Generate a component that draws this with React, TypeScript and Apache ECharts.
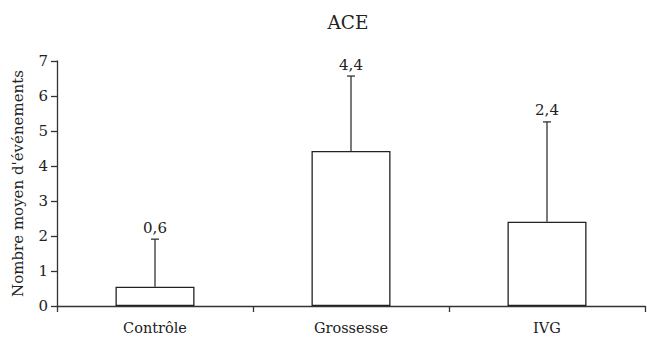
import React, { useEffect, useRef } from "react";
import * as echarts from "echarts";

const categories = ["Contrôle", "Grossesse", "IVG"];
const means = [0.55, 4.43, 2.41];
const upperErrors = [1.91, 6.57, 5.26];
const valueLabels = ["0,6", "4,4", "2,4"];
const yTicks = { min: 0, max: 7, interval: 1 };

const FONT = "DejaVu Serif";

export default function App() {
  const ref = useRef<HTMLDivElement>(null);
  useEffect(() => {
    if (!ref.current) return;
    const chart = echarts.init(ref.current, null, { renderer: "svg" });
    const errData = categories.map((_, i) => [i, means[i], upperErrors[i]]);
    chart.setOption({
      animation: false,
      backgroundColor: "#fff",
      title: {
        text: "ACE",
        left: 343,
        top: 8,
        textAlign: "center",
        textStyle: { fontFamily: FONT, fontSize: 18.5, fontWeight: "normal", color: "#222" },
      },
      grid: { left: 57, right: 2, top: 61, bottom: 36, containLabel: false },
      xAxis: {
        type: "category",
        data: categories,
        axisLine: { lineStyle: { color: "#333", width: 1.3 } },
        axisTick: { show: true, length: 6, lineStyle: { color: "#333", width: 1.3 } },
        axisLabel: { fontFamily: FONT, fontSize: 14.5, color: "#222", margin: 14 },
        splitLine: { show: false },
      },
      yAxis: {
        type: "value",
        min: yTicks.min,
        max: yTicks.max,
        interval: yTicks.interval,
        name: "Nombre moyen d'événements",
        nameLocation: "middle",
        nameGap: 32,
        nameRotate: 90,
        nameTextStyle: { fontFamily: FONT, fontSize: 15, color: "#222" },
        axisLine: { show: true, lineStyle: { color: "#333", width: 1.3 } },
        axisTick: { show: true, length: 6, lineStyle: { color: "#333", width: 1.3 } },
        axisLabel: { fontFamily: FONT, fontSize: 15, color: "#222", margin: 9 },
        splitLine: { show: false },
      },
      series: [
        {
          type: "bar",
          data: means,
          barWidth: 79,
          itemStyle: { color: "#fff", borderColor: "#222", borderWidth: 1.3 },
        },
        {
          type: "custom",
          data: errData,
          z: 10,
          renderItem: (params: any, api: any) => {
            const idx = api.value(0);
            const lo = api.coord([idx, api.value(1)]);
            const hi = api.coord([idx, api.value(2)]);
            const x = lo[0];
            const style = { stroke: "#333", lineWidth: 1.3 };
            return {
              type: "group",
              children: [
                { type: "line", shape: { x1: x, y1: lo[1], x2: x, y2: hi[1] }, style },
                { type: "line", shape: { x1: x - 4, y1: hi[1], x2: x + 4, y2: hi[1] }, style },
                {
                  type: "text",
                  x: x,
                  y: hi[1] - 4,
                  style: {
                    text: valueLabels[params.dataIndex],
                    fontFamily: FONT,
                    fontSize: 15,
                    fill: "#222",
                    align: "center",
                    verticalAlign: "bottom",
                  },
                },
              ],
            };
          },
        },
      ],
    });
    return () => chart.dispose();
  }, []);
  return <div ref={ref} style={{ width: 647, height: 342, position: "absolute", left: 0, top: 0 }} />;
}
